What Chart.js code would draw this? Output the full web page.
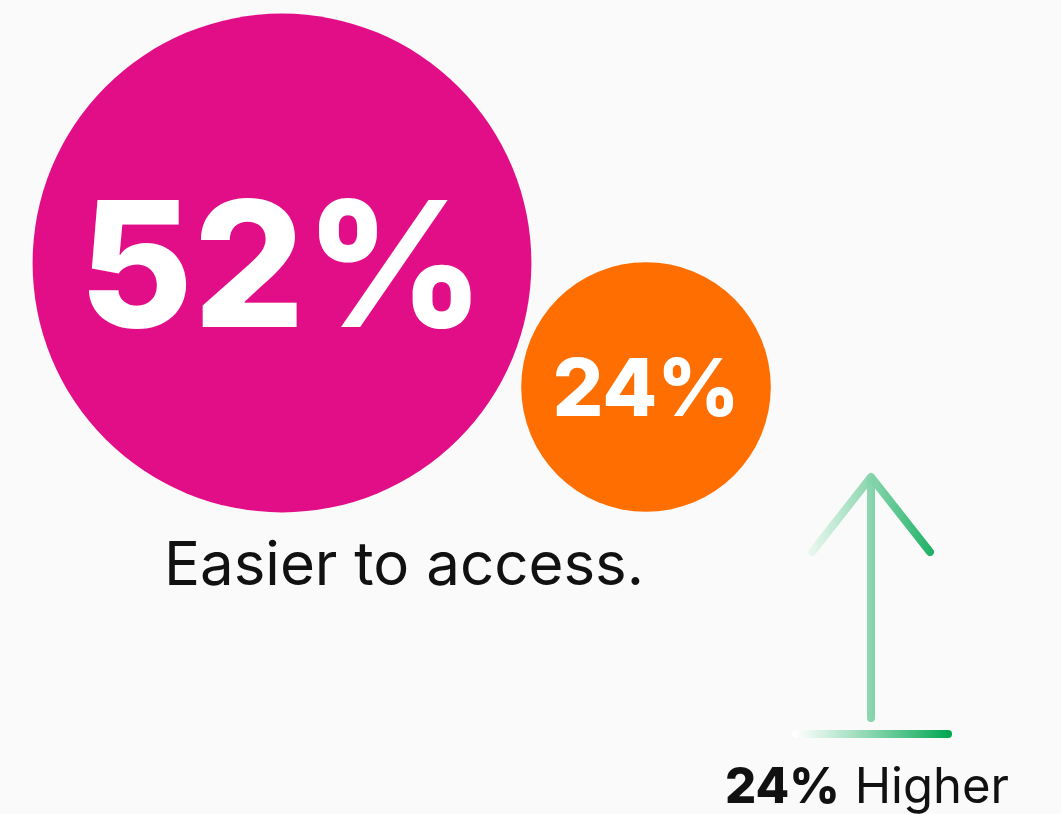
<!DOCTYPE html>
<html>
<head>
<meta charset="utf-8">
<script src="https://cdn.jsdelivr.net/npm/chart.js@4.4.1/dist/chart.umd.min.js"></script>
<style>
    html, body { margin: 0; padding: 0; background: #fafafa; overflow: hidden; }
    canvas { display: block; }
</style>
</head>
<body>
<canvas id="access-chart" width="1061" height="814"></canvas>
<script>
/* eslint-disable */
// values
const shareValues = [52, 24];
const shareColors = ['#e20e88', '#ff6e00'];
const captionText = 'Easier to access.';
const growthValue = 24;
const growthWord = 'Higher';

// layout, in scale units (1 unit = 1px, y counted from the top)
const bubbleCenters = [[282, 263], [646, 387]];
const valueFontSizes = [175, 80];
const captionPos = [404, 585];
const growthPos = [725, 803];
const arrowBase = [[796, 734], [948, 734]];
const arrowShaft = [[871, 718], [871, 480]];
const arrowHead = [[812, 552], [871, 477], [930, 552]];
const arrowGradient = [795, 950];

const radiusFor = v => 18 + v * 4.45;
const toPoints = arr => arr.map(p => ({ x: p[0], y: p[1] }));

const greenStroke = (context) => {
    const chart = context.chart;
    const x = chart.scales.x;
    if (!x || !chart.chartArea) return '#82d3aa';
    const x0 = x.getPixelForValue(arrowGradient[0]);
    const x1 = x.getPixelForValue(arrowGradient[1]);
    if (!isFinite(x0) || !isFinite(x1)) return '#82d3aa';
    const g = chart.ctx.createLinearGradient(x0, 0, x1, 0);
    g.addColorStop(0, 'rgba(255, 255, 255, 0.9)');
    g.addColorStop(1, '#00a651');
    return g;
};

const arrowLine = (pts) => ({
    type: 'line',
    data: toPoints(pts),
    borderColor: greenStroke,
    borderWidth: 8,
    borderCapStyle: 'round',
    borderJoinStyle: 'round',
    pointRadius: 0,
    tension: 0,
    fill: false,
    clip: false
});

const textPlugin = {
    id: 'textLabels',
    afterDatasetsDraw(chart) {
        const c = chart.ctx;
        const { x, y } = chart.scales;
        c.save();
        c.fillStyle = '#ffffff';
        c.textAlign = 'center';
        c.textBaseline = 'alphabetic';
        shareValues.forEach((v, i) => {
            const el = chart.getDatasetMeta(i).data[0];
            const size = valueFontSizes[i];
            c.font = `800 ${size}px Inter`;
            // caps sit centred on the bubble
            c.fillText(`${v}%`, el.x, el.y + size * 0.727 / 2);
        });

        c.fillStyle = '#111111';
        c.font = '400 60px Inter';
        c.fillText(captionText, x.getPixelForValue(captionPos[0]), y.getPixelForValue(captionPos[1]));

        c.textAlign = 'left';
        let gx = x.getPixelForValue(growthPos[0]);
        const gy = y.getPixelForValue(growthPos[1]);
        c.font = '800 49px Inter';
        const bold = `${growthValue}%`;
        c.fillText(bold, gx, gy);
        gx += c.measureText(bold).width + 15;
        c.font = '400 49px Inter';
        c.fillText(growthWord, gx, gy);
        c.restore();
    }
};

const ctx = document.getElementById('access-chart');

const accessChart = new Chart(ctx, {
    type: 'bubble',
    data: {
        datasets: [
            ...shareValues.map((v, i) => ({
                data: [{ x: bubbleCenters[i][0], y: bubbleCenters[i][1], r: radiusFor(v) }],
                backgroundColor: shareColors[i],
                borderWidth: 0,
                hoverRadius: 0,
                clip: false
            })),
            arrowLine(arrowBase),
            arrowLine(arrowShaft),
            arrowLine(arrowHead)
        ]
    },
    options: {
        responsive: false,
        animation: false,
        events: [],
        layout: { padding: 0, autoPadding: false },
        scales: {
            x: { type: 'linear', min: 0, max: 1061, display: false },
            y: { type: 'linear', min: 0, max: 814, reverse: true, display: false }
        },
        plugins: {
            legend: { display: false },
            tooltip: { enabled: false }
        }
    },
    plugins: [textPlugin]
});
</script>
</body>
</html>
